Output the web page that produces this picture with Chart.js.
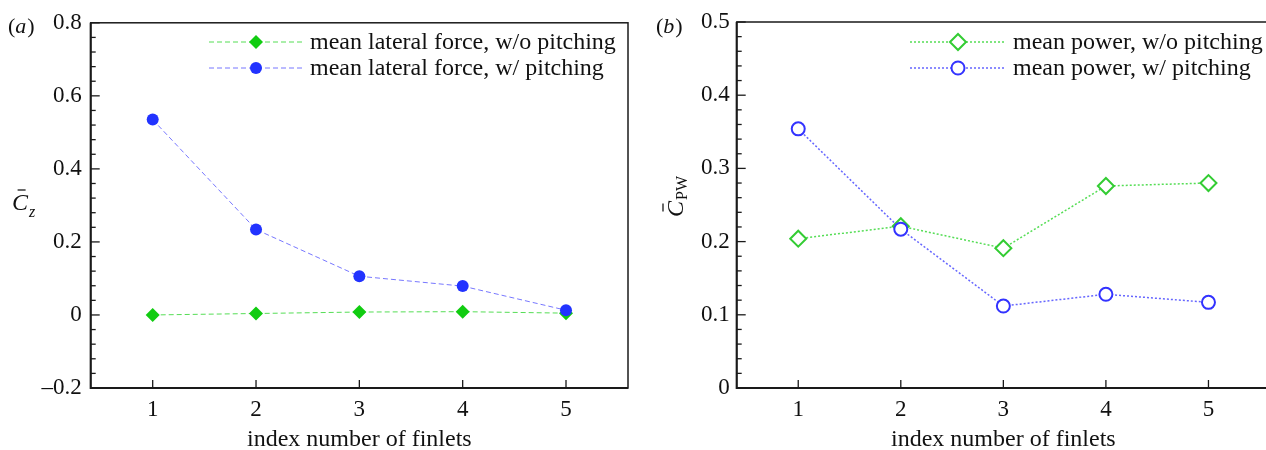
<!DOCTYPE html>
<html>
<head>
<meta charset="utf-8">
<script src="https://cdn.jsdelivr.net/npm/chart.js@4.4.1/dist/chart.umd.min.js"></script>
<style>
  html, body { margin: 0; padding: 0; background: #fff; overflow: hidden; width: 1266px; height: 450px; }
  .panel { position: absolute; top: 0; height: 450px; width: 640px; }
  #panel-a { left: 0; }
  #panel-b { left: 640px; }
</style>
</head>
<body>
<div class="panel" id="panel-a"><canvas id="chart-a" width="640" height="450"></canvas></div>
<div class="panel" id="panel-b"><canvas id="chart-b" width="640" height="450"></canvas></div>
<script>
// values
var finlets = [1, 2, 3, 4, 5];
var forceNoPitch = [0, 0.004, 0.008, 0.009, 0.005];
var forcePitch = [0.535, 0.234, 0.106, 0.079, 0.013];
var powerNoPitch = [0.204, 0.221, 0.191, 0.276, 0.280];
var powerPitch = [0.354, 0.217, 0.112, 0.128, 0.117];

var xTicks = [1, 2, 3, 4, 5];
var forceTicks = [-0.2, 0, 0.2, 0.4, 0.6, 0.8];
var forceTickLabels = ['\u20130.2', '0', '0.2', '0.4', '0.6', '0.8'];
var powerTicks = [0, 0.1, 0.2, 0.3, 0.4, 0.5];
var powerTickLabels = ['0', '0.1', '0.2', '0.3', '0.4', '0.5'];

var SERIF = "'Liberation Serif', 'Times New Roman', serif";

function points(ys) {
  return finlets.map(function (f, i) { return { x: f, y: ys[i] }; });
}

// frame, inside ticks, legend and axis symbols
var decor = {
  id: 'decor',
  afterDraw: function (chart, args, opt) {
    var ctx = chart.ctx, a = chart.chartArea;
    var xs = chart.scales.x, ys = chart.scales.y;
    ctx.save();
    ctx.strokeStyle = '#1a1a1a';
    ctx.lineWidth = 1.5;
    ctx.strokeRect(a.left, a.top, a.right - a.left, a.bottom - a.top);
    ctx.lineWidth = 2;
    ctx.beginPath();
    ctx.moveTo(a.left, a.top); ctx.lineTo(a.left, a.bottom); ctx.lineTo(a.right, a.bottom);
    ctx.stroke();

    // y ticks pointing inwards
    ctx.lineWidth = 1.3;
    var n = Math.round((ys.max - ys.min) / opt.minor);
    for (var k = 0; k <= n; k++) {
      var v = ys.min + k * opt.minor;
      var major = opt.majors.some(function (m) { return Math.abs(m - v) < 1e-6; });
      var py = ys.getPixelForValue(v);
      ctx.beginPath();
      ctx.moveTo(a.left, py); ctx.lineTo(a.left + (major ? 9 : 5), py);
      ctx.stroke();
    }
    xTicks.forEach(function (t) {
      var px = xs.getPixelForValue(t);
      ctx.beginPath();
      ctx.moveTo(px, a.bottom); ctx.lineTo(px, a.bottom - 8);
      ctx.stroke();
    });

    // legend
    chart.data.datasets.forEach(function (ds, i) {
      var y = opt.legendY[i];
      ctx.save();
      ctx.strokeStyle = ds.borderColor;
      ctx.lineWidth = ds.borderWidth;
      ctx.setLineDash(ds.borderDash);
      ctx.beginPath();
      ctx.moveTo(opt.legendX0, y); ctx.lineTo(opt.legendX1, y);
      ctx.stroke();
      ctx.restore();
      ctx.save();
      ctx.fillStyle = ds.pointBackgroundColor;
      ctx.strokeStyle = ds.pointBorderColor;
      ctx.lineWidth = ds.pointBorderWidth;
      Chart.helpers.drawPoint(ctx, {
        pointStyle: ds.pointStyle, radius: ds.pointRadius, rotation: 0, borderWidth: ds.pointBorderWidth
      }, (opt.legendX0 + opt.legendX1) / 2, y);
      ctx.restore();
      ctx.fillStyle = '#111';
      ctx.font = '24px ' + SERIF;
      ctx.textBaseline = 'middle';
      ctx.textAlign = 'left';
      ctx.fillText(ds.label, opt.legendX1 + 7, y + 1);
    });

    // panel tag like (a)
    ctx.fillStyle = '#111';
    ctx.textBaseline = 'alphabetic';
    var tx = opt.tagX;
    ctx.font = '22px ' + SERIF;
    ctx.fillText('(', tx, 33); tx += ctx.measureText('(').width;
    ctx.font = 'italic 22px ' + SERIF;
    ctx.fillText(opt.tag, tx, 33); tx += ctx.measureText(opt.tag).width + 1;
    ctx.font = '22px ' + SERIF;
    ctx.fillText(')', tx, 33);

    // y axis symbol: C with a bar and a subscript
    ctx.save();
    ctx.translate(opt.symX, opt.symY);
    if (opt.symRotate) ctx.rotate(-Math.PI / 2);
    ctx.font = 'italic 24px ' + SERIF;
    ctx.fillText('C', 0, 0);
    var cw = ctx.measureText('C').width;
    ctx.lineWidth = 1.3;
    ctx.beginPath();
    ctx.moveTo(cw * 0.35, -20); ctx.lineTo(cw * 0.85, -20);
    ctx.stroke();
    ctx.font = opt.subItalic ? 'italic 16px ' + SERIF : '16px ' + SERIF;
    ctx.fillText(opt.sub, cw + 1, opt.subDrop);
    ctx.restore();
    ctx.restore();
  }
};

function scaleOpts(yMin, yMax, yTicks, yLabels, yWidth, yPad) {
  var font = { family: SERIF, size: 23 };
  return {
    x: {
      type: 'linear', min: 0.4, max: 5.6,
      afterBuildTicks: function (s) { s.ticks = xTicks.map(function (v) { return { value: v }; }); },
      afterFit: function (s) { s.height = 62; },
      grid: { display: false, drawTicks: false }, border: { display: false },
      ticks: { font: font, color: '#111', padding: 8, maxRotation: 0,
               callback: function (v) { return String(v); } },
      title: { display: true, text: 'index number of finlets', font: { family: SERIF, size: 24 },
               color: '#111', padding: { top: 0, bottom: -4 } }
    },
    y: {
      type: 'linear', min: yMin, max: yMax,
      afterBuildTicks: function (s) { s.ticks = yTicks.map(function (v) { return { value: v }; }); },
      afterFit: function (s) { s.width = yWidth; },
      grid: { display: false, drawTicks: false }, border: { display: false },
      ticks: { font: font, color: '#111', padding: yPad,
               callback: function (v, i) { return yLabels[i]; } }
    }
  };
}

new Chart(document.getElementById('chart-a'), {
  type: 'line',
  data: {
    datasets: [
      {
        label: 'mean lateral force, w/o pitching',
        data: points(forceNoPitch),
        borderColor: '#55dd55', borderWidth: 1, borderDash: [5, 3],
        pointStyle: 'rectRot', pointRadius: 7,
        pointBackgroundColor: '#11cc11', pointBorderColor: '#11cc11', pointBorderWidth: 0,
        order: 2
      },
      {
        label: 'mean lateral force, w/ pitching',
        data: points(forcePitch),
        borderColor: '#7777ff', borderWidth: 1, borderDash: [5, 3],
        pointStyle: 'circle', pointRadius: 6,
        pointBackgroundColor: '#2233ff', pointBorderColor: '#2233ff', pointBorderWidth: 0,
        order: 1
      }
    ]
  },
  options: {
    responsive: false, animation: false,
    layout: { padding: { top: 22, right: 12, left: 0, bottom: 0 } },
    plugins: {
      legend: { display: false }, tooltip: { enabled: false },
      decor: { minor: 0.04, majors: forceTicks, legendY: [42, 68], legendX0: 209, legendX1: 303,
               tag: 'a', tagX: 8, symX: 12, symY: 210, symRotate: false, sub: 'z', subItalic: true, subDrop: 7 }
    },
    scales: scaleOpts(-0.2, 0.8, forceTicks, forceTickLabels, 90.7, 9)
  },
  plugins: [decor]
});

new Chart(document.getElementById('chart-b'), {
  type: 'line',
  data: {
    datasets: [
      {
        label: 'mean power, w/o pitching',
        data: points(powerNoPitch),
        borderColor: '#55dd55', borderWidth: 1.5, borderDash: [2, 2],
        pointStyle: 'rectRot', pointRadius: 8,
        pointBackgroundColor: '#ffffff', pointBorderColor: '#33cc33', pointBorderWidth: 2,
        order: 2
      },
      {
        label: 'mean power, w/ pitching',
        data: points(powerPitch),
        borderColor: '#6666ff', borderWidth: 1.5, borderDash: [2, 2],
        pointStyle: 'circle', pointRadius: 6.5,
        pointBackgroundColor: '#ffffff', pointBorderColor: '#3333ff', pointBorderWidth: 2,
        order: 1
      }
    ]
  },
  options: {
    responsive: false, animation: false,
    layout: { padding: { top: 22, right: 6, left: 0, bottom: 0 } },
    plugins: {
      legend: { display: false }, tooltip: { enabled: false },
      decor: { minor: 0.02, majors: powerTicks, legendY: [42, 68], legendX0: 270, legendX1: 366,
               tag: 'b', tagX: 16, symX: 43, symY: 217, symRotate: true, sub: 'PW', subItalic: false, subDrop: 4 }
    },
    scales: scaleOpts(0, 0.5, powerTicks, powerTickLabels, 96.7, 7)
  },
  plugins: [decor]
});
</script>
</body>
</html>
